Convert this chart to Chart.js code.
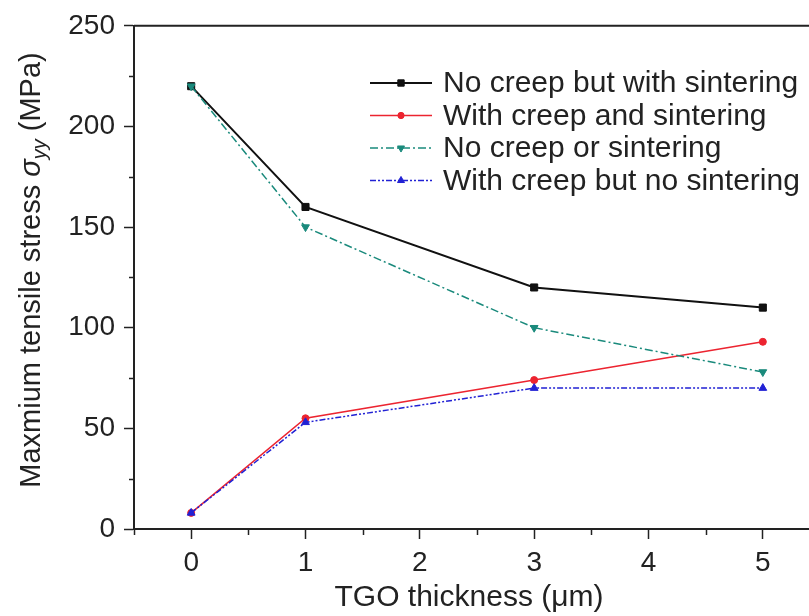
<!DOCTYPE html>
<html><head><meta charset="utf-8">
<script src="https://cdn.jsdelivr.net/npm/chart.js@4/dist/chart.umd.min.js"></script>
<style>html,body{margin:0;padding:0;background:#fff;overflow:hidden;width:809px;height:616px}canvas{display:block}</style>
</head><body>
<canvas id="c" width="830" height="616"></canvas>
<script>
// ---- data ----
const thicknessUm = [0, 1, 3, 5];
const noCreepWithSintering = [220, 160, 120, 110];
const creepAndSintering = [8, 55, 74, 93];
const noCreepNoSintering = [220, 150, 100, 78];
const creepNoSintering = [8, 53, 70, 70];
const seriesLabels = ['No creep but with sintering', 'With creep and sintering', 'No creep or sintering', 'With creep but no sintering'];
const xTickValues = [0, 1, 2, 3, 4, 5];
const yTickValues = [0, 50, 100, 150, 200, 250];
const xMinorTickValues = [-0.5, 0.5, 1.5, 2.5, 3.5, 4.5];
const yMinorTickValues = [25, 75, 125, 175, 225];
const xTitle = 'TGO thickness (μm)';
const yTitleParts = ['Maxmium tensile stress ', 'σ', 'yy', ' (MPa)'];

const FONT = "'Liberation Sans', Arial, sans-serif";
const INK = '#222';

function pts(arr){ return thicknessUm.map((x,i)=>({x:x, y:arr[i]})); }

const styles = [
  {color:'#111111', width:2, dash:[], point:'rect', radius:5, rot:0},
  {color:'#ec2430', width:1.5, dash:[], point:'circle', radius:3.5, rot:0},
  {color:'#1a8a7c', width:1.5, dash:[8,3,2,3], point:'triangle', radius:4.5, rot:180},
  {color:'#2121d4', width:1.5, dash:[6,2,2,2,2,2], point:'triangle', radius:4.5, rot:0}
];
const seriesValues = [noCreepWithSintering, creepAndSintering, noCreepNoSintering, creepNoSintering];

const datasets = seriesValues.map((vals,i)=>({
  label: seriesLabels[i],
  data: pts(vals),
  borderColor: styles[i].color,
  backgroundColor: styles[i].color,
  borderWidth: styles[i].width,
  borderDash: styles[i].dash,
  pointStyle: styles[i].point,
  pointRadius: styles[i].radius,
  pointRotation: styles[i].rot,
  pointBackgroundColor: styles[i].color,
  pointBorderColor: styles[i].color,
  pointBorderWidth: 1,
  tension: 0,
  fill: false,
  order: 4 - i
}));

function drawMarker(ctx, style, x, y, r, rot){
  ctx.save();
  ctx.translate(x,y);
  ctx.rotate(rot*Math.PI/180);
  ctx.beginPath();
  if(style==='rect'){ const s=r*Math.SQRT1_2; ctx.rect(-s,-s,2*s,2*s); }
  else if(style==='circle'){ ctx.arc(0,0,r,0,Math.PI*2); }
  else {
    ctx.moveTo(0,-r);
    ctx.lineTo(r*Math.cos(Math.PI/6), r*0.5);
    ctx.lineTo(-r*Math.cos(Math.PI/6), r*0.5);
    ctx.closePath();
  }
  ctx.fill(); ctx.stroke();
  ctx.restore();
}

const decor = {
  id:'decor',
  afterDraw(chart){
    const ctx = chart.ctx, a = chart.chartArea;
    const xs = chart.scales.x, ys = chart.scales.y;
    ctx.save();
    ctx.strokeStyle = INK; ctx.lineWidth = 1.5;
    yMinorTickValues.forEach(v=>{
      const py = Math.round(ys.getPixelForValue(v))+0.5;
      ctx.beginPath(); ctx.moveTo(a.left-5, py); ctx.lineTo(a.left, py); ctx.stroke();
    });
    xMinorTickValues.forEach(v=>{
      const px = Math.round(xs.getPixelForValue(v))+0.5;
      ctx.beginPath(); ctx.moveTo(px, a.bottom); ctx.lineTo(px, a.bottom+6); ctx.stroke();
    });
    ctx.lineWidth = 2;
    ctx.beginPath(); ctx.moveTo(a.left, a.top); ctx.lineTo(a.right, a.top); ctx.lineTo(a.right, a.bottom); ctx.stroke();
    // x title
    ctx.fillStyle = INK; ctx.textBaseline = 'middle'; ctx.textAlign = 'center';
    ctx.font = `30px ${FONT}`;
    ctx.fillText(xTitle, 469, 598);
    // y title
    const size = 29;
    const parts = [
      {t:yTitleParts[0], f:`${size}px ${FONT}`, dy:0},
      {t:yTitleParts[1], f:`italic ${size}px ${FONT}`, dy:0},
      {t:yTitleParts[2], f:`italic ${Math.round(size*0.68)}px ${FONT}`, dy:size*0.28},
      {t:yTitleParts[3], f:`${size}px ${FONT}`, dy:0}
    ];
    let total = 0;
    parts.forEach(p=>{ ctx.font = p.f; p.w = ctx.measureText(p.t).width; total += p.w; });
    ctx.translate(32, 270);
    ctx.rotate(-Math.PI/2);
    ctx.textBaseline = 'middle'; ctx.textAlign = 'left';
    let x = -total/2;
    parts.forEach(p=>{ ctx.font = p.f; ctx.fillText(p.t, x, p.dy); x += p.w; });
    ctx.restore();
    // legend
    ctx.save();
    chart.data.datasets.forEach((ds,i)=>{
      const st = styles[i];
      const y = 83 + i*32.5;
      ctx.strokeStyle = st.color; ctx.lineWidth = st.width; ctx.setLineDash(st.dash);
      ctx.beginPath(); ctx.moveTo(370, y); ctx.lineTo(432, y); ctx.stroke();
      ctx.setLineDash([]);
      ctx.fillStyle = st.color; ctx.lineWidth = 1;
      drawMarker(ctx, st.point, 401, y, st.radius*0.9, st.rot);
      ctx.fillStyle = INK; ctx.font = `30px ${FONT}`; ctx.textBaseline = 'middle'; ctx.textAlign = 'left';
      ctx.fillText(ds.label, 443, y+1);
    });
    ctx.restore();
  }
};

new Chart(document.getElementById('c'), {
  type: 'line',
  data: { datasets: datasets },
  options: {
    responsive: false,
    animation: false,
    layout: { padding: { top: 23, right: 10, left: 0, bottom: 0 } },
    plugins: { legend: { display: false }, tooltip: { enabled: false } },
    scales: {
      x: {
        type: 'linear', min: -0.5, max: 5.5,
        afterBuildTicks: s => { s.ticks = xTickValues.map(v=>({value:v})); },
        afterFit: s => { s.height = 87; },
        grid: { display: true, drawOnChartArea: false, drawTicks: true, tickLength: 10, tickWidth: 1.5, tickColor: INK },
        border: { display: true, color: INK, width: 2 },
        ticks: { font: { family: FONT, size: 28 }, color: INK, padding: 7, maxRotation: 0, autoSkip: false },
        title: { display: false }
      },
      y: {
        type: 'linear', min: 0, max: 250,
        afterBuildTicks: s => { s.ticks = yTickValues.map(v=>({value:v})); },
        afterFit: s => { s.width = 134; },
        grid: { display: true, drawOnChartArea: false, drawTicks: true, tickLength: 10, tickWidth: 1.5, tickColor: INK },
        border: { display: true, color: INK, width: 2 },
        ticks: { font: { family: FONT, size: 28 }, color: INK, padding: 9, autoSkip: false }
      }
    }
  },
  plugins: [decor]
});
</script>
</body></html>
